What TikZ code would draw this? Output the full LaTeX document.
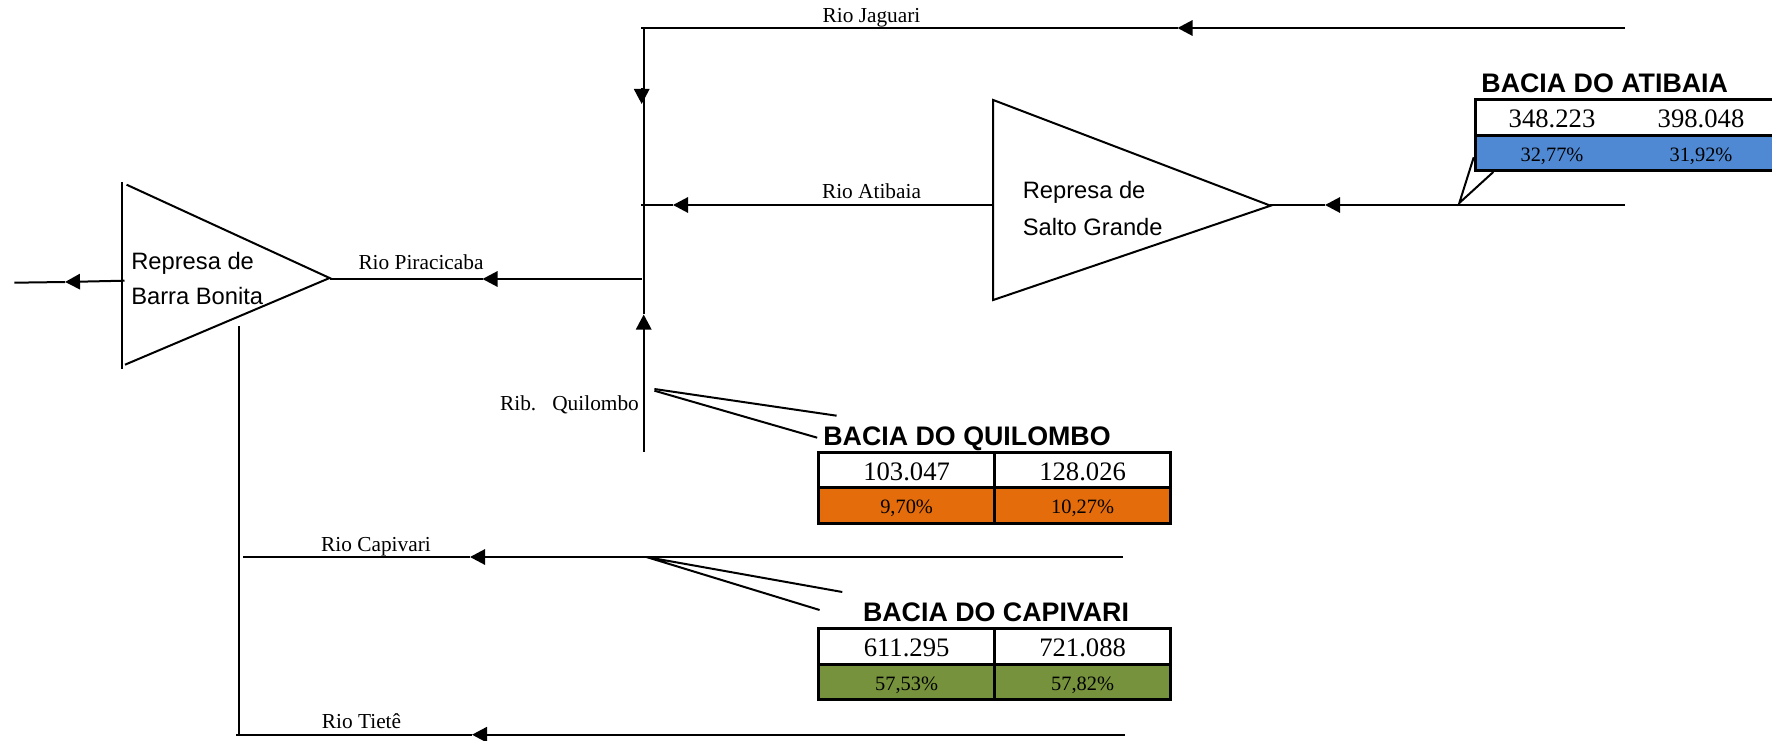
\documentclass[tikz,border=0pt]{standalone}
\usepackage{fontspec}
\setmainfont{Liberation Serif}
\newfontfamily\arialfont{Liberation Sans}
\usepackage{tikz}
\usetikzlibrary{arrows.meta,positioning}
\definecolor{atibaiablue}{HTML}{5089D3}
\definecolor{quilomboorange}{HTML}{E46C0A}
\definecolor{capivarigreen}{HTML}{76923C}
\tikzstyle{line} = [draw, line width=1.5pt, color=black]
\tikzstyle{arrow} = [draw, line width=1.5pt, color=black, -{Triangle[length=11.25pt,width=11.5pt]}]
\tikzstyle{rivertext} = [inner sep=0pt, font=\fontsize{16}{18}\selectfont]
\tikzstyle{damtext} = [inner sep=0pt, anchor=west, font=\arialfont\fontsize{17.8}{20}\selectfont]
\tikzstyle{basintitle} = [inner sep=0pt, font=\arialfont\bfseries\fontsize{20.1}{22}\selectfont]
\tikzstyle{numcell} = [draw, line width=2.2pt, inner sep=0pt, minimum width=132pt, minimum height=26.6pt, text height=15.5pt, text depth=0pt, font=\fontsize{20}{22}\selectfont]
\tikzstyle{pctcell} = [draw, line width=2.2pt, inner sep=0pt, minimum width=132pt, minimum height=26.6pt, text height=12.3pt, text depth=0pt, font=\fontsize{15.3}{18}\selectfont]
\tikzstyle{longrow} = [minimum width=224.6pt]
\tikzstyle{numtext} = [inner sep=0pt, text height=14pt, text depth=0pt, font=\fontsize{20}{22}\selectfont]
\tikzstyle{pcttext} = [inner sep=0pt, text height=13pt, text depth=0pt, font=\fontsize{15.3}{18}\selectfont]
\newcommand{\rivertext}[2]{node (r#1) [rivertext] {#2}}
\newcommand{\damtext}[2]{node (t#1) [damtext] {#2}}
\newcommand{\basintitle}[2]{node (b#1) [basintitle] {#2}}
\newcommand{\numcell}[2]{node (n#1) [numcell] {#2}}
\newcommand{\pctcell}[3]{node (p#1) [pctcell, fill=#2] {#3}}

\begin{document}
\begin{tikzpicture}[x=0.75pt,y=-0.75pt]
\useasboundingbox (0,0) rectangle (1772,741);

% dams
\coordinate (b1) at (122.3,182);
\coordinate (b2) at (122.3,368.7);
\coordinate (b3) at (126.6,184.7);
\coordinate (b4) at (125,364.7);
\coordinate (b5) at (329.6,278);
\path [line] (b1) -- (b2);
\path [line] (b3) -- (b5) -- (b4);
\path (131,263) \damtext{1}{Represa de};
\path (t1.west)+(0,33) \damtext{2}{Barra Bonita};

\coordinate (s1) at (993.2,100);
\coordinate (s2) at (993.2,300);
\coordinate (s3) at (1270.5,205.7);
\path [line] (s1) -- (s2) -- (s3) -- cycle;
\path (1022.5,192) \damtext{3}{Represa de};
\path (t3.west)+(0,34.7) \damtext{4}{Salto Grande};

% rio jaguari
\coordinate (j1) at (1625,28);
\coordinate (j2) at (1177.5,28);
\coordinate (j3) at (641,28);
\coordinate (j4) at (643.7,28);
\coordinate (j5) at (643.7,314.5);
\coordinate (j6) at (641.7,88.5);
\coordinate (j7) at (641.7,104);
\path [arrow] (j1) -- (j2);
\path [line] (j2) -- (j3);
\path [line] (j4) -- (j5);
\path [arrow] (j6) -- (j7);
\path (871.5,18) \rivertext{1}{Rio Jaguari};

% rio atibaia
\coordinate (a1) at (1625,205);
\coordinate (a2) at (1325,205);
\coordinate (a3) at (1270,205);
\coordinate (a4) at (993.2,205);
\coordinate (a5) at (673,205);
\coordinate (a6) at (641,205);
\coordinate (a7) at (1459.3,203);
\coordinate (a8) at (1473.7,157.3);
\coordinate (a9) at (1493.3,172);
\path [arrow] (a1) -- (a2);
\path [line] (a2) -- (a3);
\path [arrow] (a4) -- (a5);
\path [line] (a5) -- (a6);
\path [line] (a8) -- (a7) -- (a9);
\path (871.5,191) \rivertext{2}{Rio Atibaia};

% rio piracicaba
\coordinate (c1) at (642,279);
\coordinate (c2) at (482.5,279);
\coordinate (c3) at (329.6,279);
\path [arrow] (c1) -- (c2);
\path [line] (c2) -- (c3);
\path (421,262) \rivertext{3}{Rio Piracicaba};

% saida
\coordinate (o1) at (124.5,280.7);
\coordinate (o2) at (65,282);
\coordinate (o3) at (14.3,282.7);
\path [arrow] (o1) -- (o2);
\path [line] (o2) -- (o3);

% rib. quilombo
\coordinate (q1) at (643.7,451.7);
\path [arrow] (q1) -- (j5);
\path (569.5,405) \rivertext{4}{Rib.\ \ \ Quilombo};
\coordinate (q2) at (654.4,389);
\coordinate (q3) at (836.6,415.7);
\coordinate (q4) at (654.4,390.7);
\coordinate (q5) at (817.2,437.7);
\path [line] (q2) -- (q3);
\path [line] (q4) -- (q5);

% rio capivari
\coordinate (v1) at (1123,557);
\coordinate (v2) at (470,557);
\coordinate (v3) at (243,557);
\coordinate (v4) at (646.4,557);
\coordinate (v5) at (842.3,592);
\coordinate (v6) at (819.6,610);
\path [arrow] (v1) -- (v2);
\path [line] (v2) -- (v3);
\path [line] (v5) -- (v4) -- (v6);
\path (376,547) \rivertext{5}{Rio Capivari};

% rio tiete
\coordinate (e1) at (1125,734.7);
\coordinate (e2) at (472,734.7);
\coordinate (e3) at (236,734.7);
\coordinate (e4) at (238.5,326);
\coordinate (e5) at (238.5,734.7);
\path [arrow] (e1) -- (e2);
\path [line] (e2) -- (e3);
\path [line] (e4) -- (e5);
\path (361.5,721) \rivertext{6}{Rio Tietê};

% bacia do atibaia
\path (1625.3,117.7) node (n1) [numcell, longrow] {};
\path (n1)+(0,35.3) node (p1) [pctcell, longrow, fill=atibaiablue] {};
\path (n1)+(-73.3,0) node (n2) [numtext] {348.223};
\path (n1)+(75.7,0) node (n3) [numtext] {398.048};
\path (p1)+(-73.3,0) node (p2) [pcttext] {32,77\%};
\path (p1)+(75.7,0) node (p3) [pcttext] {31,92\%};
\path (1604.7,83.5) \basintitle{1}{BACIA DO ATIBAIA};

% bacia do quilombo
\path (906.6,469.8) \numcell{4}{103.047};
\path (n4)+(176,0) \numcell{5}{128.026};
\path (n4)+(0,35.5) \pctcell{4}{quilomboorange}{9,70\%};
\path (p4)+(176,0) \pctcell{5}{quilomboorange}{10,27\%};
\path (n4)+(60.4,-30.6) \basintitle{2}{BACIA DO QUILOMBO};

% bacia do capivari
\path (906.6,646.5) \numcell{6}{611.295};
\path (n6)+(176,0) \numcell{7}{721.088};
\path (n6)+(0,35.5) \pctcell{6}{capivarigreen}{57,53\%};
\path (p6)+(176,0) \pctcell{7}{capivarigreen}{57,82\%};
\path (n6)+(89.4,-34.2) \basintitle{3}{BACIA DO CAPIVARI};
\end{tikzpicture}
\end{document}
